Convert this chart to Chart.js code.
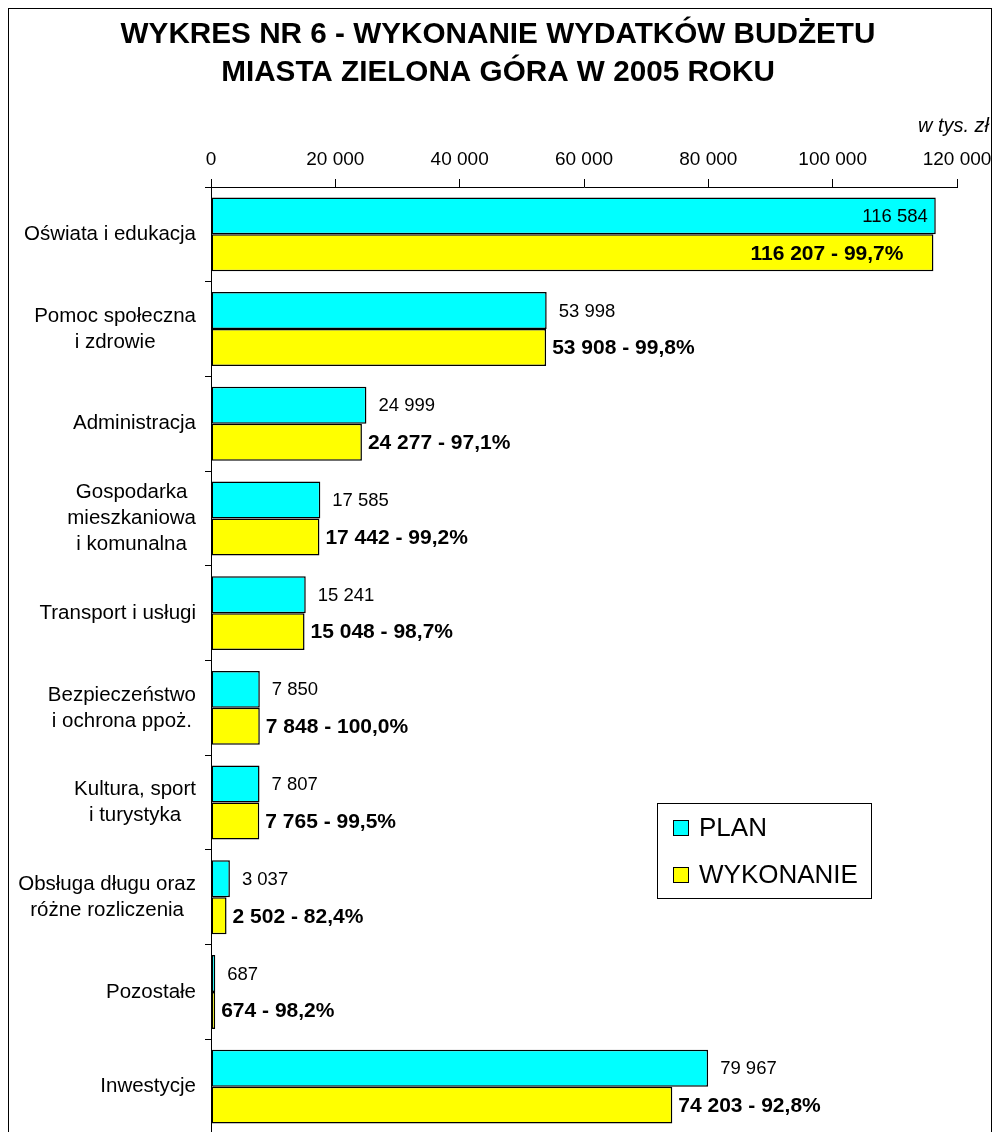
<!DOCTYPE html>
<html>
<head>
<meta charset="utf-8">
<script src="https://cdn.jsdelivr.net/npm/chart.js@4.4.1/dist/chart.umd.min.js"></script>
<style>
  html, body { margin: 0; padding: 0; background: #fff; overflow: hidden; }
  #wrap { position: relative; width: 993px; height: 1140px; }
</style>
</head>
<body>
<div id="wrap"><canvas id="budget" width="993" height="1140"></canvas></div>
<script>
// Wykres nr 6 - wykonanie wydatkow budzetu (w tys. zl)

const categories = [
  ['Oświata i edukacja'],
  ['Pomoc społeczna', 'i zdrowie'],
  ['Administracja'],
  ['Gospodarka', 'mieszkaniowa', 'i komunalna'],
  ['Transport i usługi'],
  ['Bezpieczeństwo', 'i ochrona ppoż.'],
  ['Kultura, sport', 'i turystyka'],
  ['Obsługa długu oraz', 'różne rozliczenia'],
  ['Pozostałe'],
  ['Inwestycje']
];
const planValues = [116584, 53998, 24999, 17585, 15241, 7850, 7807, 3037, 687, 79967];
const execValues = [116207, 53908, 24277, 17442, 15048, 7848, 7765, 2502, 674, 74203];
const execPercent = ['99,7%', '99,8%', '97,1%', '99,2%', '98,7%', '100,0%', '99,5%', '82,4%', '98,2%', '92,8%'];
const axisMin = 0;
const axisMax = 120000;
const axisStep = 20000;
const seriesNames = ['PLAN', 'WYKONANIE'];

const FONT = '"Liberation Sans", Arial, sans-serif';
const colors = {
  plan: '#00FFFF',
  exec: '#FFFF00',
  line: '#000000'
};

function fmt(n) {
  return String(n).replace(/\B(?=(\d{3})+(?!\d))/g, ' ');
}

// frame + titles
const framePlugin = {
  id: 'frame',
  beforeDraw(chart) {
    const ctx = chart.ctx;
    ctx.save();
    ctx.fillStyle = '#fff';
    ctx.fillRect(0, 0, chart.width, chart.height);
    ctx.strokeStyle = '#000';
    ctx.lineWidth = 1;
    ctx.strokeRect(8.5, 8.5, 983, 1200);
    ctx.fillStyle = '#000';
    ctx.textAlign = 'center';
    ctx.textBaseline = 'middle';
    ctx.font = 'bold 29.7px ' + FONT;
    ctx.fillText('WYKRES NR 6 - WYKONANIE WYDATKÓW BUDŻETU', 498, 35);
    ctx.fillText('MIASTA ZIELONA GÓRA W 2005 ROKU', 498, 73);
    ctx.textAlign = 'right';
    ctx.font = 'italic 20px ' + FONT;
    ctx.fillText('w tys. zł', 989, 126);
    ctx.restore();
  }
};

// category labels: block right-aligned, lines centred to each other
const catLabelPlugin = {
  id: 'catLabels',
  afterDraw(chart) {
    const ctx = chart.ctx;
    const y = chart.scales.y;
    const lh = 26;
    ctx.save();
    ctx.font = '20.5px ' + FONT;
    ctx.fillStyle = '#000';
    ctx.textAlign = 'center';
    ctx.textBaseline = 'middle';
    categories.forEach((lines, i) => {
      const cy = y.getPixelForValue(i);
      const w = Math.max(...lines.map(l => ctx.measureText(l).width));
      const cx = 196 - w / 2;
      const top = cy - (lines.length - 1) * lh / 2;
      lines.forEach((l, k) => ctx.fillText(l, cx, top + k * lh));
    });
    ctx.restore();
  }
};

// value labels next to bars
const valueLabelPlugin = {
  id: 'valueLabels',
  afterDatasetsDraw(chart) {
    const ctx = chart.ctx;
    const right = chart.chartArea.right;
    ctx.save();
    ctx.fillStyle = '#000';
    ctx.textBaseline = 'middle';
    chart.data.datasets.forEach((ds, di) => {
      const meta = chart.getDatasetMeta(di);
      meta.data.forEach((bar, i) => {
        let text;
        if (di === 0) {
          ctx.font = '18.5px ' + FONT;
          text = fmt(planValues[i]);
        } else {
          ctx.font = 'bold 21px ' + FONT;
          text = fmt(execValues[i]) + ' - ' + execPercent[i];
        }
        const w = ctx.measureText(text).width;
        const gap = di === 0 ? 12 : 6;
        if (bar.x + gap + w > right + 30) {
          ctx.textAlign = 'right';
          ctx.fillText(text, bar.x - (di === 0 ? 8 : 30), bar.y + 1);
        } else {
          ctx.textAlign = 'left';
          ctx.fillText(text, bar.x + gap, bar.y + 1);
        }
      });
    });
    ctx.restore();
  }
};

// legend box inside the plot
const legendBoxPlugin = {
  id: 'legendBox',
  afterDraw(chart) {
    const ctx = chart.ctx;
    const fills = [colors.plan, colors.exec];
    ctx.save();
    ctx.strokeStyle = '#000';
    ctx.lineWidth = 1;
    ctx.fillStyle = '#fff';
    ctx.fillRect(657.5, 803.5, 214, 95);
    ctx.strokeRect(657.5, 803.5, 214, 95);
    ctx.font = '26px ' + FONT;
    ctx.textBaseline = 'middle';
    ctx.textAlign = 'left';
    seriesNames.forEach((name, i) => {
      const cy = 828 + i * 47;
      ctx.fillStyle = fills[i];
      ctx.fillRect(673.5, cy - 7.5, 15, 15);
      ctx.strokeRect(673.5, cy - 7.5, 15, 15);
      ctx.fillStyle = '#000';
      ctx.fillText(name, 699, cy + 1);
    });
    ctx.restore();
  }
};

new Chart(document.getElementById('budget').getContext('2d'), {
  type: 'bar',
  data: {
    labels: categories,
    datasets: [{
      label: seriesNames[0],
      data: planValues,
      backgroundColor: colors.plan,
      borderColor: colors.line,
      borderWidth: 1.5,
      borderSkipped: false,
      categoryPercentage: 0.78,
      barPercentage: 1
    }, {
      label: seriesNames[1],
      data: execValues,
      backgroundColor: colors.exec,
      borderColor: colors.line,
      borderWidth: 1.5,
      borderSkipped: false,
      categoryPercentage: 0.78,
      barPercentage: 1
    }]
  },
  options: {
    indexAxis: 'y',
    responsive: false,
    animation: false,
    layout: {
      padding: { top: 120, right: 36, bottom: 6, left: 0 }
    },
    plugins: {
      legend: { display: false },
      tooltip: { enabled: false }
    },
    scales: {
      x: {
        position: 'top',
        min: axisMin,
        max: axisMax,
        afterFit: s => {
          s.height = 67;
          s.paddingLeft = 0;
          s.paddingRight = 0;
        },
        ticks: {
          stepSize: axisStep,
          color: '#000',
          padding: 8,
          maxRotation: 0,
          font: { size: 19, family: FONT },
          callback: v => fmt(v)
        },
        grid: {
          drawOnChartArea: false,
          drawTicks: true,
          tickLength: 8,
          color: '#000'
        },
        border: { color: '#000', width: 1 }
      },
      y: {
        afterFit: s => { s.width = 211; },
        ticks: { display: false },
        grid: {
          offset: true,
          drawOnChartArea: false,
          drawTicks: true,
          tickLength: 6,
          color: '#000'
        },
        border: { color: '#000', width: 1 }
      }
    }
  },
  plugins: [framePlugin, catLabelPlugin, valueLabelPlugin, legendBoxPlugin]
});
</script>
</body>
</html>
